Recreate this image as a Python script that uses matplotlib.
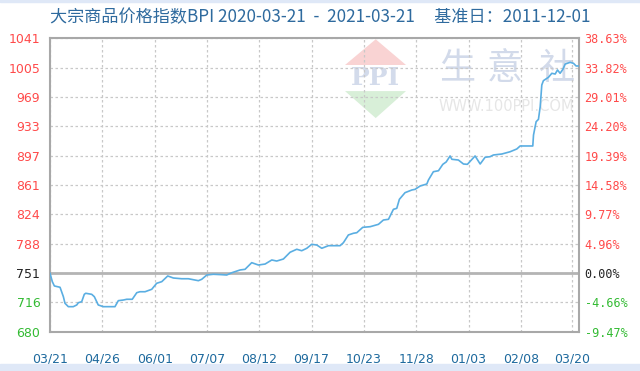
import numpy as np
import matplotlib
matplotlib.use("Agg")
import matplotlib.pyplot as plt
from matplotlib.patches import Polygon

plt.rcParams['font.family'] = ['Noto Sans CJK SC', 'DejaVu Sans']

# --- Данные (день от 2020-03-21, значение BPI) ---
days = [0, 1.6, 3.0, 6.9, 9.2, 10.3, 12.6, 16.0, 18.4, 19.5, 21.8, 23.6, 24.6, 28.7, 30.5,
        33.2, 36.7, 44.7, 47.0, 50.5, 52.8, 56.6, 59.7, 61.9, 65.4, 70.0, 73.4, 76.9, 81.0,
        84.9, 90.6, 95.2, 102.1, 104.4, 107.9, 112.4, 118.2, 121.6, 125.1, 130.8, 134.2,
        138.8, 143.4, 148.0, 152.6, 156.0, 160.6, 165.2, 169.8, 173.2, 176.7, 180.1, 183.6,
        187.0, 191.6, 199.6, 201.9, 205.3, 208.8, 211.1, 215.2, 220.3, 226.0, 229.4, 232.9,
        236.3, 238.6, 240.4, 244.3, 249.0, 251.2, 254.7, 259.3, 260.4, 263.8, 267.3, 270.3,
        272.6, 275.3, 276.5, 281.0, 284.5, 287.2, 292.5, 296.0, 299.4, 302.8, 305.1, 310.9,
        316.6, 321.2, 323.5, 332.2, 332.7, 334.5, 336.1, 337.3, 338.4, 339.5, 343.0, 345.3,
        347.6, 349.2, 351.0, 352.9, 354.5, 357.9, 360.2, 362.0, 363.6]
bpi = [751.7, 741.4, 736.1, 734.5, 722.9, 714.8, 710.6, 710.6, 712.7, 715.5, 716.7, 725.8,
       727.1, 725.8, 722.9, 712.7, 710.6, 710.6, 718.0, 718.8, 719.7, 719.7, 727.8, 729.0,
       729.0, 732.0, 739.4, 741.4, 748.4, 745.9, 745.0, 745.0, 742.6, 744.3, 749.6, 750.5,
       750.0, 749.6, 752.4, 755.8, 756.6, 764.8, 761.9, 763.1, 768.1, 766.8, 769.3, 777.6,
       781.3, 779.5, 782.5, 787.4, 786.5, 782.5, 785.7, 785.7, 789.4, 798.9, 801.0, 801.7,
       808.3, 809.1, 812.0, 817.3, 818.2, 830.5, 831.7, 842.8, 851.0, 854.3, 855.1, 859.2,
       861.7, 866.6, 876.8, 878.0, 885.9, 888.8, 896.2, 892.1, 891.2, 886.3, 885.9, 896.2,
       886.3, 894.6, 895.3, 897.4, 898.6, 901.4, 904.8, 908.5, 908.5, 922.0, 938.4, 941.3,
       956.9, 983.6, 988.9, 993.1, 998.0, 997.1, 1002.1, 998.0, 1002.9, 1009.4, 1011.5,
       1010.3, 1007.0, 1007.0]

x_labels = ['03/21', '04/26', '06/01', '07/07', '08/12', '09/17', '10/23', '11/28',
            '01/03', '02/08', '03/20']
y_labels = ['680', '716', '751', '788', '824', '861', '897', '933', '969', '1005', '1041']
pct_labels = ['-9.47%', '-4.66%', '0.00%', '4.96%', '9.77%', '14.58%', '19.39%',
              '24.20%', '29.01%', '33.82%', '38.63%']

RED, GREEN, BLACK = '#ff4a4a', '#33bb33', '#222222'
def lab_color(i):
    return GREEN if i < 2 else (BLACK if i == 2 else RED)

fig = plt.figure(figsize=(6.4, 3.71), dpi=100)
fig.patch.set_facecolor('white')
# светло-голубые полосы сверху и снизу
fig.patches.append(plt.Rectangle((0, 0), 1, 7 / 371, transform=fig.transFigure,
                                 color='#dfe8f7', zorder=0))
fig.patches.append(plt.Rectangle((0, 1 - 2 / 371), 1, 2 / 371, transform=fig.transFigure,
                                 color='#dfe8f7', zorder=0))

ax = fig.add_axes([50 / 640, 1 - 331.6 / 371, 529 / 640, 293.3 / 371])
y_min, y_max = 679.9, 1041.1
yt = np.linspace(y_min, y_max, 11)
xt = [0, 36, 72, 108, 144, 180, 216, 252, 288, 324, 359]

ax.set_xlim(0, 364)
ax.set_ylim(y_min, y_max)

# водяной знак
T = ax.transAxes
ax.add_patch(Polygon([[0.5577, 0.909], [0.6157, 0.9966], [0.673, 0.909]], closed=True,
                     transform=T, color='#f9d3d3', zorder=0, lw=0))
ax.add_patch(Polygon([[0.5577, 0.82], [0.6157, 0.728], [0.673, 0.82]], closed=True,
                     transform=T, color='#d8efd8', zorder=0, lw=0))
ax.text(0.6157, 0.866, 'PPI', transform=T, ha='center', va='center', fontsize=18,
        family='DejaVu Serif', fontweight='bold', color='#d3dbeb', zorder=0)
for cx, ch in zip([0.769, 0.860, 0.958], ['生', '意', '社']):
    ax.text(cx, 0.895, ch, transform=T, ha='center', va='center', fontsize=26,
            color='#d2daea', zorder=0, clip_on=True)
ax.text(0.735, 0.767, 'WWW.100PPI.COM', transform=T, ha='left', va='center', fontsize=10.5,
        family='DejaVu Sans', color='#e6e6e6', zorder=0, clip_on=True)

ax.set_xticks(xt)
ax.set_xticklabels(x_labels)
ax.set_yticks(yt)
ax.set_yticklabels(y_labels)
ax.grid(True, ls=(0, (2, 2)), color='#c8c8c8', lw=0.9)
ax.axhline(yt[2], color='#b4b4b4', lw=2, zorder=2)
ax.plot(days, bpi, color='#5aaee2', lw=1.2, zorder=3)

for s in ax.spines.values():
    s.set_color('#a8a8a8')
    s.set_linewidth(1.5)

ax.tick_params(axis='both', length=0)
ax.tick_params(axis='x', pad=15, labelsize=9, labelcolor='#1e6a9e')
ax.tick_params(axis='y', pad=7, labelsize=9)
for i, t in enumerate(ax.get_yticklabels()):
    t.set_color(lab_color(i))
    t.set_family('DejaVu Sans')
for t in ax.get_xticklabels():
    t.set_family('DejaVu Sans')

ax2 = ax.twinx()
ax2.set_ylim(y_min, y_max)
ax2.set_yticks(yt)
ax2.set_yticklabels(pct_labels)
ax2.tick_params(axis='y', length=0, pad=4, labelsize=8.5)
for i, t in enumerate(ax2.get_yticklabels()):
    t.set_color(lab_color(i))
    t.set_family('DejaVu Sans Mono')
for s in ax2.spines.values():
    s.set_visible(False)

fig.text(50 / 640, 1 - 17 / 371, '大宗商品价格指数BPI 2020-03-21  -  2021-03-21     基准日：2011-12-01',
         ha='left', va='center', fontsize=12.3, color='#2e6a9e')

fig.savefig('out.png', dpi=100)
